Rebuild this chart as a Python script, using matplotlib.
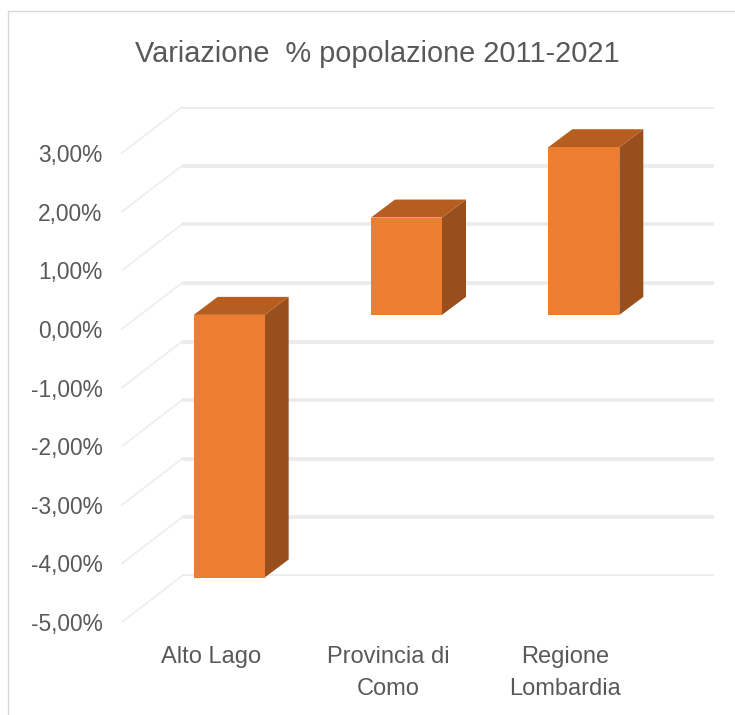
import matplotlib.pyplot as plt
from matplotlib.lines import Line2D
from matplotlib.transforms import Affine2D

plt.rcParams['font.family'] = ['Liberation Sans', 'DejaVu Sans']

# dati
categorie = ['Alto Lago', 'Provincia di\nComo', 'Regione\nLombardia']
variazione = [-4.48, 1.66, 2.86]
tick_valori = [3, 2, 1, 0, -1, -2, -3, -4, -5]
tick_etichette = ['3,00%', '2,00%', '1,00%', '0,00%', '-1,00%', '-2,00%', '-3,00%', '-4,00%', '-5,00%']

W, H = 735, 715
fig = plt.figure(figsize=(W / 100, H / 100), dpi=100)


def box(x0, x1, y_top, y_bot):
    return [x0 / W, 1 - y_bot / H, (x1 - x0) / W, (y_bot - y_top) / H]


# parete di fondo (griglia e barre)
ax = fig.add_axes(box(182, 714, 107, 576))
ax.set_xlim(0, 3)
ax.set_ylim(-5, 3)
ax.axis('off')

# piano frontale (solo etichette)
ax2 = fig.add_axes(box(122, 654, 153, 622))
ax2.set_xlim(0, 3)
ax2.set_ylim(-5, 3)
ax2.patch.set_visible(False)
for s in ax2.spines.values():
    s.set_visible(False)
ax2.set_yticks(tick_valori, tick_etichette, fontsize=16.4, color='#595959')
ax2.set_xticks([0.5, 1.5, 2.5], categorie, fontsize=17, color='#595959', linespacing=1.56)
ax2.tick_params(axis='y', length=0, pad=14)
ax2.tick_params(axis='x', length=0, pad=17.5)

# griglia
px_x = 532 / 3
px_y = 469 / 8
for v in tick_valori:
    ax.plot([0, 3], [v, v], color='#EBEBEB', lw=2.6, solid_capstyle='butt', zorder=1)
    ax.plot([0, -60 / px_x], [v, v - 46 / px_y], color='#EDEDED', lw=1.2, clip_on=False, zorder=1)

# barre: spostate dalla parete di fondo verso il piano frontale
sposta = Affine2D().translate(-41.5, -32) + Affine2D()
tr = ax.transData + sposta
larghezza = 71 / px_x
prof_x = 24 / px_x
prof_y = 18 / px_y
for i, val in enumerate(variazione):
    x0 = i + 0.5 - larghezza / 2
    x1 = x0 + larghezza
    # fianco
    ax.fill([x1, x1 + prof_x, x1 + prof_x, x1], [0, prof_y, val + prof_y, val],
            color='#984F1D', lw=0, transform=tr, clip_on=False, zorder=2)
    # faccia superiore
    alto = max(val, 0)
    ax.fill([x0, x0 + prof_x, x1 + prof_x, x1], [alto, alto + prof_y, alto + prof_y, alto],
            color='#B55E20', lw=0, transform=tr, clip_on=False, zorder=2)
    ax.bar(i + 0.5, val, larghezza, color='#ED7D31', transform=tr, clip_on=False, zorder=3)

# titolo e cornice
fig.text(377 / W, 1 - 54 / H, 'Variazione  % popolazione 2011-2021', fontsize=20.8, color='#595959',
         ha='center', va='center')
fig.add_artist(Line2D([8 / W, 8 / W, 1], [0, 1 - 11 / H, 1 - 11 / H], color='#D9D9D9', lw=1))

fig.savefig('out.png', dpi=100)
